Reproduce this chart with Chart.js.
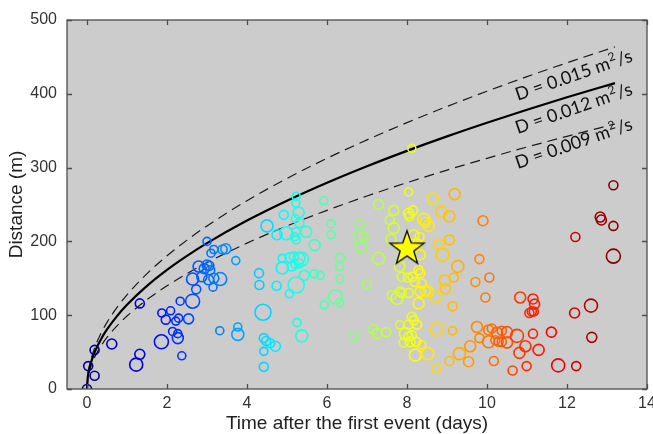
<!DOCTYPE html>
<html>
<head>
<meta charset="utf-8">
<script src="https://cdn.jsdelivr.net/npm/chart.js@4.4.1/dist/chart.umd.min.js"></script>
<style>
  html, body { margin: 0; background: #fff; overflow: hidden; }
  canvas { display: block; }
</style>
</head>
<body>
<canvas id="myChart" width="653" height="434"></canvas>
<script>
// event times (days after first event) and distances (m)
const timeDays = [
  0.00, 0.03, 0.19, 0.19, 0.62, 1.23, 1.32, 1.32, 1.86, 1.87,
  1.97, 2.09, 2.14, 2.22, 2.29, 2.27, 2.27, 2.37, 2.33, 2.54,
  2.64, 2.64, 2.73, 2.79, 2.87, 2.93, 3.00, 3.00, 3.04, 3.08,
  3.15, 3.17, 3.10, 3.17, 3.06, 3.33, 3.39, 3.47, 3.72, 3.32,
  3.77, 3.77, 4.30, 4.31, 4.40, 4.50, 4.75, 4.92, 4.98, 5.23,
  5.22, 5.29, 5.21, 5.31, 5.23, 5.19, 5.23, 5.48, 5.69, 4.88,
  5.08, 5.17, 5.30, 5.36, 5.20, 5.30, 4.88, 5.12, 5.43, 5.23,
  5.06, 4.74, 5.68, 5.83, 5.25, 5.37, 4.42, 4.48, 4.58, 4.71,
  4.42, 4.42, 5.92, 6.10, 6.10, 6.33, 6.32, 6.32, 6.21, 6.32,
  5.93, 6.82, 6.80, 6.92, 6.86, 7.29, 7.29, 7.00, 6.68, 7.15,
  7.25, 7.48, 7.67, 7.57, 7.67, 7.60, 8.04, 8.12, 8.04, 8.15,
  8.06, 8.42, 8.46, 8.54, 8.17, 8.27, 8.33, 8.31, 7.82, 7.87,
  8.02, 8.14, 8.29, 8.33, 8.20, 8.37, 7.83, 8.04, 7.62, 7.75,
  7.87, 8.33, 8.46, 8.54, 8.29, 8.12, 8.17, 7.82, 8.04, 8.25,
  7.96, 8.12, 8.04, 7.92, 8.08, 8.23, 8.37, 8.21, 8.52, 8.73,
  8.65, 9.19, 8.86, 9.06, 9.90, 8.79, 9.06, 8.89, 9.81, 9.27,
  9.17, 8.95, 8.96, 10.06, 9.71, 9.96, 8.73, 9.14, 8.75, 9.14,
  9.75, 9.81, 9.58, 9.31, 9.06, 9.54, 10.04, 10.12, 10.25, 10.37,
  10.50, 10.04, 10.21, 10.29, 10.37, 10.50, 10.17, 10.64, 10.81, 10.75,
  10.83, 11.15, 11.19, 11.12, 11.06, 11.17, 11.15, 10.96, 11.29, 10.99,
  11.61, 11.78, 12.23, 12.19, 12.60, 12.62, 12.21, 12.83, 12.86, 13.16,
  13.16, 13.16
];
const distM = [
  0, 31, 18, 53, 61, 33, 47, 116, 64, 103,
  94, 106, 78, 92, 96, 75, 69, 45, 119, 95,
  119, 149, 135, 166, 152, 163, 168, 200, 148, 161,
  138, 150, 184, 189, 167, 149, 189, 190, 174, 79,
  84, 74, 157, 141, 104, 221, 209, 236, 211, 261,
  252, 239, 231, 225, 213, 206, 202, 213, 195, 177,
  178, 180, 177, 176, 169, 170, 164, 166, 154, 141,
  129, 140, 156, 154, 90, 72, 69, 65, 62, 58,
  51, 30, 255, 224, 209, 178, 166, 149, 125, 117,
  114, 223, 206, 207, 192, 177, 250, 142, 71, 81,
  75, 77, 242, 229, 218, 203, 267, 326, 238, 242,
  234, 230, 226, 221, 209, 197, 182, 206, 166, 152,
  151, 152, 161, 157, 145, 143, 132, 130, 127, 123,
  130, 132, 133, 132, 116, 98, 93, 87, 87, 87,
  75, 73, 71, 63, 64, 64, 60, 46, 48, 27,
  258, 264, 240, 234, 228, 196, 202, 182, 176, 166,
  151, 147, 136, 151, 145, 124, 125, 112, 81, 79,
  84, 69, 58, 48, 38, 37, 80, 82, 76, 79,
  77, 64, 66, 64, 64, 63, 38, 25, 49, 72,
  124, 122, 115, 105, 103, 105, 75, 58, 53, 31,
  77, 32, 31, 103, 113, 70, 206, 233, 229, 221,
  276, 180
];
// relative event size (bigger circle = bigger event)
const eventSize = [
  0.25, 0.25, 0.25, 0.25, 0.5, 1.25, 0.5, 0.25, 1.5, 0,
  0.25, 0, 0, 0, 0, 0, 0.75, 0, 0, 0.5,
  1.5, 1, 0.25, 0.75, 0.5, 0.5, 0.5, 0, 0.5, 0.25,
  0, 0.5, 0, 0, 0.25, 1.25, 0.25, 0.5, 0, 0,
  0, 1, 0.25, 0.25, 2, 1, 0.5, 0.25, 1.25, 0,
  0, 0.75, 0, 0.25, 0, 0, 0, 0.75, 0.75, 0,
  0.5, 0.25, 1, 1.5, 0, 0.25, 1, 0.25, 0.5, 2,
  0, 0.25, 0, 0, 0, 1, 0.25, 0.25, 0.25, 0.5,
  0, 0.25, 0, 0, 0, 0.25, 0, 0, 1.5, 0,
  0, 0.25, 0.75, 0.25, 0.75, 1, 0.5, 0.25, 0.5, 0.25,
  0.5, 0.25, 0.5, 0.25, 0.75, 0.5, 0, 0, 0.5, 0.25,
  0.25, 1, 0.5, 0.75, 0.5, 0.25, 0.5, 0.25, 0.5, 0.25,
  0.25, 0.25, 0.25, 0.25, 0.25, 0.25, 0.25, 0.25, 0.25, 1,
  0.25, 0.5, 0.5, 0.5, 0.75, 0.25, 0.25, 0, 0.25, 0.25,
  1, 0.25, 0.25, 0.25, 0.5, 0.25, 0, 1, 1, 0.25,
  0.75, 0.75, 0.75, 0.75, 0.5, 0.5, 0.5, 1.25, 0.25, 1,
  0.25, 0.75, 0.5, 0.25, 0.25, 0.25, 0.75, 0.25, 1.25, 0,
  0.75, 0.25, 0.75, 1, 0.25, 0.5, 0.5, 0.25, 0.75, 0.25,
  0.75, 1, 0.25, 0.25, 0.25, 0.75, 0.25, 0.25, 0.75, 1.25,
  0.75, 0.5, 0.5, 0.25, 0.25, 0.25, 0.25, 0.75, 0.75, 0.25,
  0.5, 1.25, 0.25, 0.5, 1.25, 0.5, 0.25, 0.5, 0.5, 0.25,
  0.25, 1.5
];

// triggering-front curves, values
const curveT = [0, 0.02, 0.05, 0.1, 0.2, 0.35, 0.5, 0.75, 1, 1.5, 2, 2.5, 3, 4, 5, 6, 7, 8, 9, 10, 11, 12, 13.2];
const frontD015 = [0, 18.0, 28.5, 40.3, 57.1, 75.5, 90.2, 110.5, 127.6, 156.3, 180.5, 201.7, 221.0, 255.2, 285.3, 312.6, 337.6, 360.9, 382.8, 403.5, 423.2, 442.0, 463.6];
const frontD012 = [0, 16.1, 25.5, 36.1, 51.0, 67.5, 80.7, 98.8, 114.1, 139.7, 161.4, 180.4, 197.6, 228.2, 255.1, 279.5, 301.9, 322.7, 342.3, 360.8, 378.4, 395.3, 414.5];
const frontD009 = [0, 14.0, 22.1, 31.3, 44.2, 58.5, 69.9, 85.6, 98.9, 121.1, 139.8, 156.3, 171.2, 197.7, 221.0, 242.1, 261.5, 279.6, 296.6, 312.6, 327.9, 342.4, 359.1];
const curveNames = ['D = 0.015 m', 'D = 0.012 m', 'D = 0.009 m'];

const mainShock = { x: 8.0, y: 192 };
const xTicks = [0, 2, 4, 6, 8, 10, 12, 14];
const yTicks = [0, 100, 200, 300, 400, 500];

const axisFont = 'Liberation Sans';
const tMax = 13.2;

// MATLAB-ish jet colormap
function jet(v) {
  const c = k => Math.round(255 * Math.max(0, Math.min(1, 1.5 - Math.abs(4 * v - k))));
  return 'rgb(' + c(3) + ',' + c(2) + ',' + c(1) + ')';
}

// yellow star marker for the main event
function makeStar(R) {
  const cv = document.createElement('canvas');
  const s = Math.ceil(R * 2 + 4);
  cv.width = s; cv.height = s;
  const c = cv.getContext('2d');
  c.beginPath();
  for (let i = 0; i < 10; i++) {
    const r = i % 2 === 0 ? R : R * 0.4;
    const a = -Math.PI / 2 + i * Math.PI / 5;
    const px = s / 2 + r * Math.cos(a), py = s / 2 + 1.5 + r * Math.sin(a);
    i === 0 ? c.moveTo(px, py) : c.lineTo(px, py);
  }
  c.closePath();
  c.fillStyle = '#ffff00';
  c.fill();
  c.lineWidth = 1.4;
  c.strokeStyle = '#111';
  c.stroke();
  return cv;
}

const toXY = ys => curveT.map((t, i) => ({ x: t, y: ys[i] }));

// grey plot background, box and inward ticks (MATLAB style)
const boxPlugin = {
  id: 'box',
  beforeDraw(chart) {
    const a = chart.chartArea, ctx = chart.ctx;
    ctx.save();
    ctx.fillStyle = '#cccccc';
    ctx.fillRect(a.left, a.top, a.right - a.left, a.bottom - a.top);
    ctx.restore();
  },
  afterDraw(chart) {
    const a = chart.chartArea, ctx = chart.ctx;
    const xs = chart.scales.x, ys = chart.scales.y;
    ctx.save();
    ctx.strokeStyle = '#4d4d4d';
    ctx.lineWidth = 1.3;
    ctx.strokeRect(a.left, a.top, a.right - a.left, a.bottom - a.top);
    ctx.beginPath();
    xTicks.forEach(v => {
      const px = Math.round(xs.getPixelForValue(v)) + 0.5;
      ctx.moveTo(px, a.bottom); ctx.lineTo(px, a.bottom - 5);
      ctx.moveTo(px, a.top); ctx.lineTo(px, a.top + 5);
    });
    yTicks.forEach(v => {
      const py = Math.round(ys.getPixelForValue(v)) + 0.5;
      ctx.moveTo(a.left, py); ctx.lineTo(a.left + 5, py);
      ctx.moveTo(a.right, py); ctx.lineTo(a.right - 5, py);
    });
    ctx.stroke();

    // rotated curve labels
    const anchors = [[10.77, 390.5], [10.77, 345.5], [10.77, 298]];
    ctx.fillStyle = '#111';
    anchors.forEach((p, i) => {
      ctx.save();
      ctx.translate(xs.getPixelForValue(p[0]), ys.getPixelForValue(p[1]));
      ctx.rotate(-19 * Math.PI / 180);
      ctx.font = '18px Lato';
      ctx.textBaseline = 'alphabetic';
      ctx.fillText(curveNames[i], 0, 0);
      let w = ctx.measureText(curveNames[i]).width;
      ctx.font = '12px Lato';
      ctx.fillText('2', w + 0.5, -7);
      w += ctx.measureText('2').width + 1.5;
      ctx.font = '18px Lato';
      ctx.fillText('/s', w, 0);
      ctx.restore();
    });
    ctx.restore();
  }
};

const ctx = document.getElementById('myChart').getContext('2d');
const myChart = new Chart(ctx, {
  type: 'scatter',
  data: {
    datasets: [
      {
        label: 'main event',
        data: [mainShock],
        pointStyle: makeStar(18),
        pointRadius: 18,
        order: 0
      },
      {
        label: 'events',
        data: timeDays.map((t, i) => ({ x: t, y: distM[i] })),
        backgroundColor: 'rgba(0,0,0,0)',
        borderColor: timeDays.map(t => jet(t / tMax)),
        pointBorderWidth: 1.6,
        pointRadius: eventSize.map(s => 4 + 2 * s),
        order: 1
      },
      {
        label: 'D = 0.012',
        data: toXY(frontD012),
        showLine: true,
        borderColor: '#000',
        borderWidth: 2.2,
        pointRadius: 0,
        cubicInterpolationMode: 'monotone',
        order: 2
      },
      {
        label: 'D = 0.015',
        data: toXY(frontD015),
        showLine: true,
        borderColor: '#1a1a1a',
        borderWidth: 1.2,
        borderDash: [10, 6],
        pointRadius: 0,
        cubicInterpolationMode: 'monotone',
        order: 3
      },
      {
        label: 'D = 0.009',
        data: toXY(frontD009),
        showLine: true,
        borderColor: '#1a1a1a',
        borderWidth: 1.2,
        borderDash: [10, 6],
        pointRadius: 0,
        cubicInterpolationMode: 'monotone',
        order: 3
      }
    ]
  },
  options: {
    responsive: false,
    animation: false,
    layout: { autoPadding: false, padding: { top: 20, right: 6, left: 0, bottom: 0 } },
    plugins: {
      legend: { display: false },
      tooltip: { enabled: false }
    },
    scales: {
      x: {
        type: 'linear',
        min: -0.5,
        max: 14,
        afterBuildTicks: s => { s.ticks = xTicks.map(v => ({ value: v })); },
        afterFit: s => { s.height = 45; s.paddingLeft = 0; s.paddingRight = 0; },
        grid: { display: false },
        border: { display: false },
        ticks: { font: { family: axisFont, size: 16 }, color: '#333', padding: -3, maxRotation: 0, autoSkip: false },
        title: {
          display: true,
          text: 'Time after the first event (days)',
          font: { family: axisFont, size: 19 },
          color: '#222',
          padding: { top: 0, bottom: -1 }
        }
      },
      y: {
        type: 'linear',
        min: 0,
        max: 500,
        afterBuildTicks: s => { s.ticks = yTicks.map(v => ({ value: v })); },
        afterFit: s => { s.width = 67; s.paddingTop = 0; s.paddingBottom = 0; },
        grid: { display: false },
        border: { display: false },
        ticks: { font: { family: axisFont, size: 16 }, color: '#333', padding: 2 },
        title: {
          display: true,
          text: 'Distance (m)',
          font: { family: axisFont, size: 19 },
          color: '#222',
          padding: { top: 5, bottom: 0 }
        }
      }
    }
  },
  plugins: [boxPlugin]
});
</script>
</body>
</html>
